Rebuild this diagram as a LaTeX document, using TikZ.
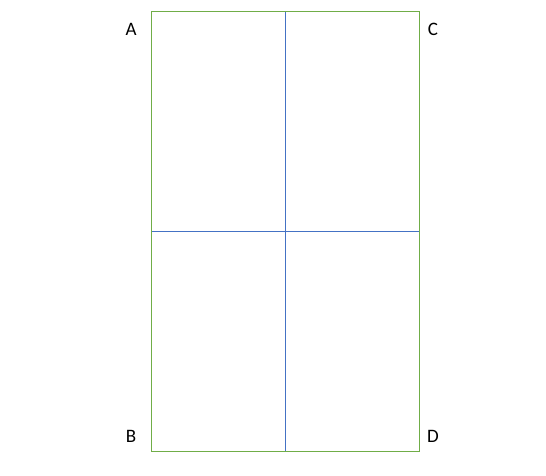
\documentclass[tikz,border=0pt]{standalone}
\usepackage{fontspec}
\setmainfont{Carlito}
\definecolor{outergreen}{RGB}{112,173,71}
\definecolor{innerblue}{RGB}{68,114,196}
\begin{document}
\begin{tikzpicture}[x=1pt,y=1pt,
  outer/.style={draw=outergreen,line width=0.9pt},
  inner/.style={draw=innerblue,line width=0.9pt},
  lbl/.style={font=\fontsize{19}{19}\selectfont,inner sep=0pt}]
\useasboundingbox (0,0) rectangle (546,475);
\coordinate (tl) at (151,464);
\coordinate (br) at (419,24);
\coordinate (mt) at (285,464);
\coordinate (mb) at (285,24);
\coordinate (ml) at (151,244);
\coordinate (mr) at (419,244);
\draw[inner] (mt) -- (mb);
\draw[inner] (ml) -- (mr);
\draw[outer] (tl) rectangle (br);
\node[lbl] (A) at (131,446) {A};
\node[lbl] (C) at (433,446) {C};
\node[lbl] (B) at (131,39) {B};
\node[lbl] (D) at (433,39) {D};
\end{tikzpicture}
\end{document}
